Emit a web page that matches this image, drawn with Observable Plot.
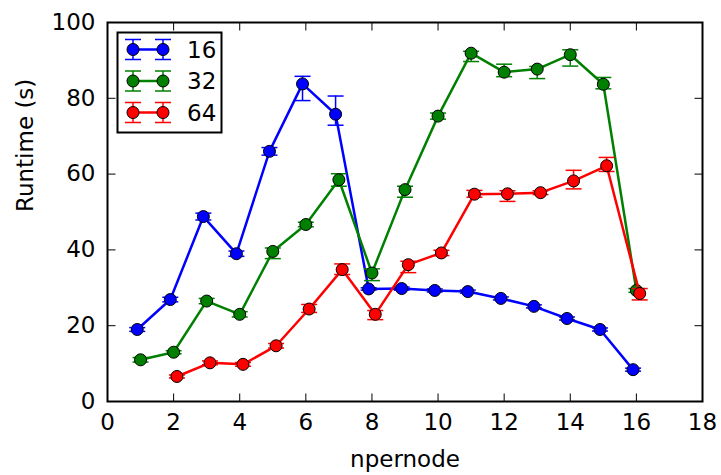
<!DOCTYPE html>
<html>
<head>
<meta charset="utf-8">
<script src="https://cdn.jsdelivr.net/npm/d3@7"></script>
<script src="https://cdn.jsdelivr.net/npm/@observablehq/plot@0.6"></script>
<style>
  html, body { margin: 0; padding: 0; background: #fff; }
  svg { display: block; }
</style>
</head>
<body>
<div id="chart"></div>
<script>
// ---- data ----
const npernode = [1, 2, 3, 4, 5, 6, 7, 8, 9, 10, 11, 12, 13, 14, 15, 16];
const seriesNames = ["16", "32", "64"];
const seriesColors = ["#0000ff", "#008000", "#ff0000"];
const seriesOffsets = [-0.1, 0, 0.1];

const runtime16 = [19.0, 26.9, 48.8, 39.0, 66.0, 83.8, 75.8, 29.7, 29.8, 29.3, 29.0, 27.2, 25.1, 21.9, 19.0, 8.4];
const low16     = [18.5, 26.3, 47.9, 38.3, 65.0, 79.4, 72.9, 29.4, 29.4, 28.9, 28.6, 26.8, 24.7, 21.5, 18.6, 8.0];
const high16    = [19.5, 27.5, 49.7, 39.7, 67.0, 85.8, 80.6, 30.0, 30.2, 29.7, 29.4, 27.6, 25.5, 22.3, 19.4, 8.8];

const runtime32 = [11.0, 13.0, 26.5, 23.0, 39.6, 46.7, 58.5, 33.9, 55.9, 75.3, 91.9, 86.9, 87.7, 91.5, 83.7, 29.3];
const low32     = [10.4, 12.6, 25.8, 22.3, 37.7, 46.1, 56.8, 31.9, 53.9, 74.5, 89.7, 85.7, 85.2, 88.5, 82.5, 28.8];
const high32    = [11.6, 13.4, 27.2, 23.7, 40.5, 47.3, 60.1, 35.0, 56.8, 76.1, 92.4, 89.0, 88.4, 92.8, 85.5, 29.8];

const runtime64 = [null, 6.6, 10.2, 9.8, 14.7, 24.4, 34.8, 23.0, 36.1, 39.2, 54.7, 54.8, 55.1, 58.2, 62.2, 28.5];
const low64     = [null, 6.2, 9.7, 9.3, 14.1, 23.5, 33.5, 21.6, 34.0, 38.5, 53.9, 52.8, 54.6, 56.1, 60.7, 26.8];
const high64    = [null, 7.0, 10.7, 10.3, 15.3, 25.6, 36.3, 24.0, 37.0, 39.9, 55.7, 55.6, 55.6, 61.0, 64.4, 29.8];

const xTicks = [0, 2, 4, 6, 8, 10, 12, 14, 16, 18];
const yTicks = [0, 20, 40, 60, 80, 100];
const xLabel = "npernode";
const yLabel = "Runtime (s)";

// ---- build tables ----
const seriesValues = [
  [runtime16, low16, high16],
  [runtime32, low32, high32],
  [runtime64, low64, high64]
];
const tables = seriesValues.map(([rt, lo, hi], i) =>
  npernode.map((n, j) => ({series: seriesNames[i], npernode: n, runtime: rt[j], low: lo[j], high: hi[j]}))
    .filter(d => d.runtime != null)
);

// ---- custom symbols ----
const capSymbol = {draw(ctx) { ctx.moveTo(-8, 0); ctx.lineTo(8, 0); }};
const tickUp    = {draw(ctx) { ctx.moveTo(0, 0); ctx.lineTo(0, -8); }};
const tickDown  = {draw(ctx) { ctx.moveTo(0, 0); ctx.lineTo(0, 8); }};
const tickRight = {draw(ctx) { ctx.moveTo(0, 0); ctx.lineTo(8, 0); }};
const tickLeft  = {draw(ctx) { ctx.moveTo(0, 0); ctx.lineTo(-8, 0); }};

const seriesMarks = tables.flatMap((rows, i) => {
  const c = seriesColors[i];
  const off = seriesOffsets[i];
  const xAcc = d => d.npernode + off;
  return [
    Plot.line(rows, {x: xAcc, y: "runtime", stroke: c, strokeWidth: 2.5}),
    Plot.ruleX(rows, {x: xAcc, y1: "low", y2: "high", stroke: c, strokeWidth: 1.5}),
    Plot.dot(rows, {x: xAcc, y: "low", symbol: capSymbol, r: 4, stroke: c, strokeWidth: 1.5, fill: "none"}),
    Plot.dot(rows, {x: xAcc, y: "high", symbol: capSymbol, r: 4, stroke: c, strokeWidth: 1.5, fill: "none"}),
    Plot.dot(rows, {x: xAcc, y: "runtime", r: 6, fill: c, stroke: "black", strokeWidth: 1})
  ];
});

const chart = Plot.plot({
  width: 721,
  height: 475,
  marginLeft: 107,
  marginRight: 19,
  marginTop: 22,
  marginBottom: 74,
  style: {fontFamily: "DejaVu Sans", fontSize: "23px", color: "black", background: "white"},
  x: {domain: [0, 18]},
  y: {domain: [0, 100]},
  marks: [
    Plot.axisX({ticks: xTicks, tickSize: 0, tickPadding: 12, label: null, fontSize: 23, tickFormat: d => String(d)}),
    Plot.axisY({ticks: yTicks, tickSize: 0, tickPadding: 12, label: null, fontSize: 23, tickFormat: d => String(d)}),
    Plot.text([xLabel], {text: d => d, frameAnchor: "bottom", dy: 49, lineAnchor: "top", fontSize: 23}),
    Plot.text([yLabel], {text: d => d, frameAnchor: "left", dx: -82, rotate: -90, fontSize: 23}),
    ...seriesMarks,
    Plot.dot(xTicks, {x: d => d, frameAnchor: "bottom", symbol: tickUp, r: 4, stroke: "black", strokeWidth: 1}),
    Plot.dot(xTicks, {x: d => d, frameAnchor: "top", symbol: tickDown, r: 4, stroke: "black", strokeWidth: 1}),
    Plot.dot(yTicks, {y: d => d, frameAnchor: "left", symbol: tickRight, r: 4, stroke: "black", strokeWidth: 1}),
    Plot.dot(yTicks, {y: d => d, frameAnchor: "right", symbol: tickLeft, r: 4, stroke: "black", strokeWidth: 1}),
    Plot.frame({stroke: "black", strokeWidth: 2})
  ]
});

// ---- legend (inside the plot, upper left) ----
const svg = d3.select(chart);
const lg = svg.append("g").attr("class", "legend").attr("text-anchor", "start");
lg.append("rect")
  .attr("x", 117.5).attr("y", 32.5).attr("width", 104).attr("height", 100)
  .attr("fill", "white").attr("stroke", "black").attr("stroke-width", 2);
seriesNames.forEach((name, i) => {
  const cy = 49.5 + i * 31.5;
  const c = seriesColors[i];
  const row = lg.append("g");
  row.append("line").attr("x1", 133).attr("x2", 163).attr("y1", cy).attr("y2", cy)
    .attr("stroke", c).attr("stroke-width", 2.5);
  [133, 163].forEach(cx => {
    row.append("line").attr("x1", cx).attr("x2", cx).attr("y1", cy - 10).attr("y2", cy + 10)
      .attr("stroke", c).attr("stroke-width", 1.5);
    row.append("line").attr("x1", cx - 8).attr("x2", cx + 8).attr("y1", cy - 10).attr("y2", cy - 10)
      .attr("stroke", c).attr("stroke-width", 1.5);
    row.append("line").attr("x1", cx - 8).attr("x2", cx + 8).attr("y1", cy + 10).attr("y2", cy + 10)
      .attr("stroke", c).attr("stroke-width", 1.5);
    row.append("circle").attr("cx", cx).attr("cy", cy).attr("r", 6)
      .attr("fill", c).attr("stroke", "black").attr("stroke-width", 1);
  });
  row.append("text").attr("x", 187).attr("y", cy).attr("dy", "0.35em")
    .attr("text-anchor", "start")
    .attr("font-family", "DejaVu Sans").attr("font-size", 23).attr("fill", "black")
    .text(name);
});

document.getElementById("chart").appendChild(chart);
</script>
</body>
</html>
